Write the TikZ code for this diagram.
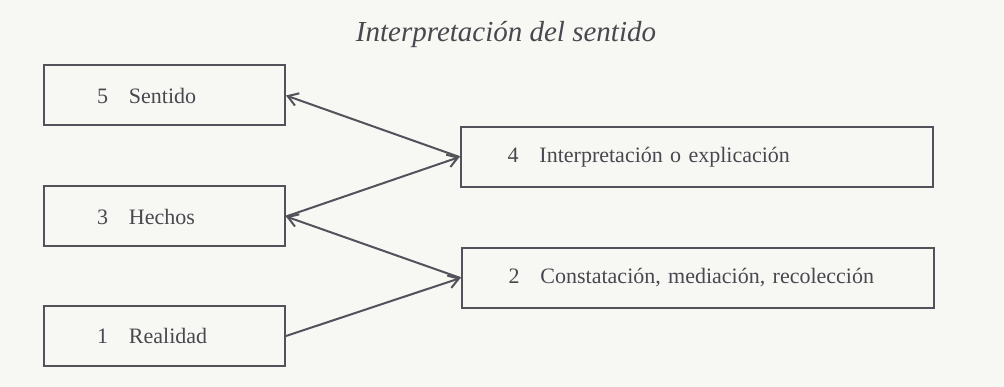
\documentclass[tikz,border=0pt]{standalone}
\usepackage{fontspec}
\setmainfont{Liberation Serif}
\usetikzlibrary{arrows.meta}
\definecolor{bg}{RGB}{247,248,244}
\definecolor{ink}{RGB}{82,82,90}
\definecolor{txt}{RGB}{72,72,78}
\tikzset{
  box/.style={draw=ink, line width=2pt, rectangle, minimum height=60pt,
    text=txt, align=left, font=\fontsize{22}{26}\selectfont},
  lbox/.style={box, inner xsep=53pt, text width=135pt},
  rbox/.style={box, inner xsep=47pt, text width=378pt},
  conn/.style={draw=ink, line width=2pt, -{Straight Barb[length=10pt,width=13pt,line width=2pt]}},
}
\begin{document}
\begin{tikzpicture}[x=1pt,y=-1pt]
\fill[bg] (0,0) rectangle (1004,387);
\useasboundingbox (0,0) rectangle (1004,387);
\node[text=txt, font=\fontsize{29}{34}\selectfont\itshape] (title) at (506,35) {Interpretación del sentido};
\node[lbox] (b5) at (164.5,95.5) {5\hspace{21pt}Sentido};
\node[lbox] (b3) at (164.5,216.5) {3\hspace{21pt}Hechos};
\node[lbox] (b1) at (164.5,336) {1\hspace{21pt}Realidad};
\node[rbox] (b4) at (696.5,157) {4\hspace{21pt}Interpretación o explicación};
\node[rbox] (b2) at (697.5,278) {2\hspace{21pt}Constatación, mediación, recolección};
\draw[conn] (b1.east) -- (b2.west);
\draw[conn] (b2.west) -- (b3.east);
\draw[conn] (b3.east) -- (b4.west);
\draw[conn] (b4.west) -- (b5.east);
\end{tikzpicture}
\end{document}
